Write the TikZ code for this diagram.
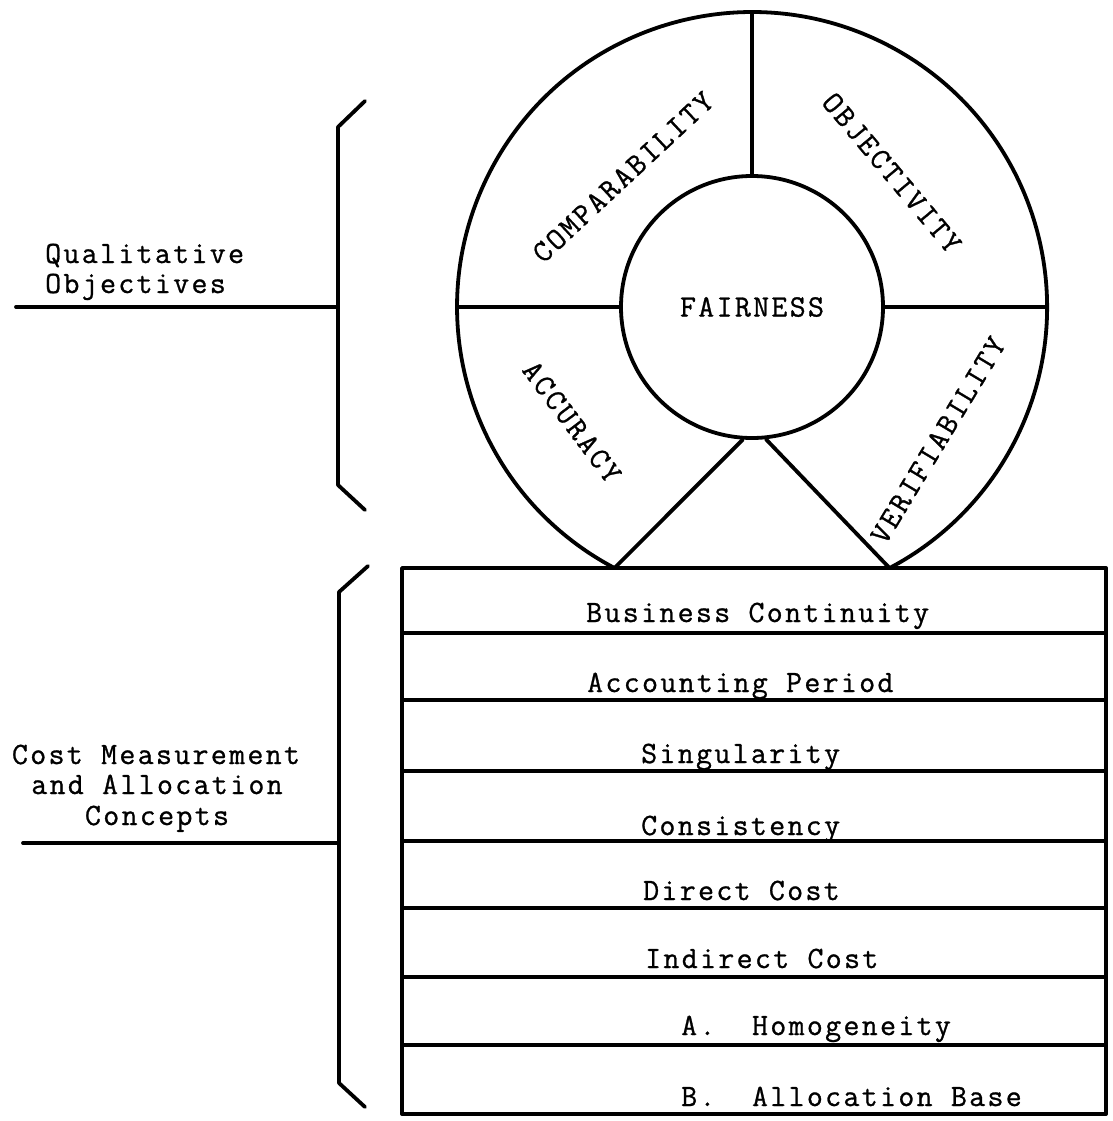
\documentclass[tikz,border=0pt]{standalone}
\usepackage{fontspec}
\newfontfamily\twfont[LetterSpace=7.5,FakeBold=0.9]{Latin Modern Mono}
\begin{document}
\begin{tikzpicture}[x=1pt,y=-1pt,
  ln/.style={line width=3.8pt, line cap=round, line join=round},
  lbl/.style={font=\twfont\fontsize{31}{32}\selectfont, inner sep=0pt},
  arclbl/.style={lbl, anchor=center}]
\useasboundingbox (0,0) rectangle (1112,1121);

% ---- wheel of qualitative objectives ----
\node[circle, draw, line width=3.8pt, minimum size=262pt, inner sep=0pt,
      font=\twfont\fontsize{31}{32}\selectfont] (fair) at (752,307) {FAIRNESS};
\coordinate (vl) at (614.5,568);
\coordinate (vr) at (889.5,568);
\coordinate (otop) at (752,12);
\coordinate (oleft) at (457,307);
\coordinate (oright) at (1047,307);
\draw[ln] (vl) arc[start angle=117.8, end angle=422.2, radius=295];
\draw[ln] (otop) -- (fair.north);
\draw[ln] (oleft) -- (fair.west);
\draw[ln] (fair.east) -- (oright);
\draw[ln] (vl) -- (fair.-94);
\draw[ln] (vr) -- (fair.-84);

\node[arclbl, rotate=43]  (comp) at (623,177) {COMPARABILITY};
\node[arclbl, rotate=-50] (obj)  at (892,173) {OBJECTIVITY};
\node[arclbl, rotate=-53] (acc)  at (572,422) {ACCURACY};
\node[arclbl, rotate=59]  (ver)  at (938,440) {VERIFIABILITY};

% ---- table of concepts ----
\coordinate (tl) at (402,568);
\coordinate (br) at (1106,1114);
\draw[ln] (tl) rectangle (br);
\foreach \yy in {633,700,771,841,908,977,1045}
  \draw[ln] (402,\yy) -- (1106,\yy);

\node[lbl, anchor=base west] (bc) at (586,622)  {Business Continuity};
\node[lbl, anchor=base west] (ap) at (587,692)  {Accounting Period};
\node[lbl, anchor=base west] (sg) at (641,763)  {Singularity};
\node[lbl, anchor=base west] (cs) at (641,835)  {Consistency};
\node[lbl, anchor=base west] (dc) at (643,900)  {Direct Cost};
\node[lbl, anchor=base west] (ic) at (645,968)  {Indirect Cost};
\node[lbl, anchor=base west] (ho) at (681,1035) {A.\ \ Homogeneity};
\node[lbl, anchor=base west] (ab) at (681,1106) {B.\ \ Allocation Base};

% ---- left labels and brackets ----
\node[lbl, anchor=base west] (q1) at (45,263) {Qualitative};
\node[lbl, anchor=base west] (q2) at (45,293) {Objectives};
\coordinate (qe) at (16,307);
\coordinate (qb) at (338,307);
\draw[ln] (qe) -- (qb);
\draw[ln] (365,101) -- (338,127) -- (338,485) -- (365,510);

\node[lbl, anchor=base] (c1) at (156,764) {Cost Measurement};
\node[lbl, anchor=base] (c2) at (157,794) {and Allocation};
\node[lbl, anchor=base] (c3) at (157,825) {Concepts};
\coordinate (ce) at (23,843);
\coordinate (cb) at (339,843);
\draw[ln] (ce) -- (cb);
\draw[ln] (368,566) -- (339,592) -- (339,1083) -- (365,1107);
\end{tikzpicture}
\end{document}
